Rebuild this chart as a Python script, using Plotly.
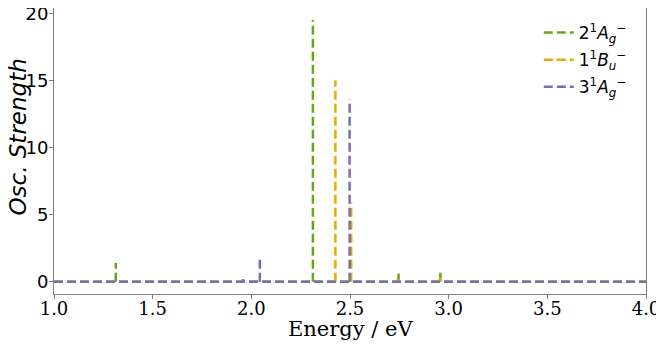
import plotly.graph_objects as go

# peak positions (eV) and oscillator strengths
ag2_pos = [1.313, 2.312, 2.746, 2.958]
ag2_h = [1.4, 19.5, 0.6, 0.7]

bu1_pos = [1.956, 2.426, 2.506, 2.742, 2.955]
bu1_h = [0.1, 15.0, 5.9, 0.2, 0.3]

ag3_pos = [1.958, 2.043, 2.498]
ag3_h = [0.2, 1.85, 13.6]

x_lo, x_hi = 1.0, 4.0


def spikes(pos, h):
    # zero baseline, then one vertical stroke per peak (separate subpaths)
    xs, ys = [x_lo, x_hi], [0.0, 0.0]
    for p, v in zip(pos, h):
        xs += [None, p, p]
        ys += [None, 0.0, v]
    return xs, ys


series = [
    ("2<sup>1</sup><i>A</i><sub><i>g</i></sub><sup>−</sup>", ag2_pos, ag2_h, "#66a61e"),
    ("1<sup>1</sup><i>B</i><sub><i>u</i></sub><sup>−</sup>", bu1_pos, bu1_h, "#e6ab02"),
    ("3<sup>1</sup><i>A</i><sub><i>g</i></sub><sup>−</sup>", ag3_pos, ag3_h, "#7570b3"),
]

fig = go.Figure()
for i, (name, pos, h, col) in enumerate(series):
    xs, ys = spikes(pos, h)
    fig.add_trace(go.Scatter(x=xs, y=ys, name=name, mode="lines", legendgroup=str(i),
                             connectgaps=False,
                             line=dict(color=col, width=2.5, dash="9px,4px")))

axis_style = dict(showline=True, linecolor="#808080", linewidth=1, mirror=True,
                  ticks="outside", ticklen=4, tickcolor="#808080",
                  showgrid=False, zeroline=False, automargin=False,
                  ticklabeloverflow="allow")

# page is drawn with an 8px body margin, so the figure is shifted by 8px
fig.update_layout(
    width=656, height=336,
    margin=dict(l=46, r=18, t=0, b=50),
    plot_bgcolor="white", paper_bgcolor="white",
    xaxis=dict(range=[x_lo, x_hi], tickvals=[1.0, 1.5, 2.0, 2.5, 3.0, 3.5, 4.0],
               ticktext=["1.0", "1.5", "2.0", "2.5", "3.0", "3.5", "4.0"],
               tickfont=dict(family="DejaVu Serif", size=18, color="black"),
               ticklabelstandoff=-6,
               **axis_style),
    yaxis=dict(range=[-0.92, 20.4], tickvals=[0, 5, 10, 15, 20],
               tickfont=dict(family="DejaVu Sans", size=18, color="black"),
               ticklabelstandoff=-3,
               **axis_style),
    legend=dict(x=0.976, y=0.9755, xanchor="right", yanchor="top",
                bgcolor="rgba(255,255,255,0)", borderwidth=0,
                font=dict(family="DejaVu Sans", size=17, color="black"),
                tracegroupgap=2),
    annotations=[
        dict(text="Energy / eV", xref="paper", yref="paper", x=0.5, y=-0.122,
             xanchor="center", yanchor="middle", showarrow=False,
             font=dict(family="DejaVu Serif", size=21, color="black")),
        dict(text="<i>Osc. Strength</i>", xref="paper", yref="paper", x=-0.061, y=0.55,
             xanchor="center", yanchor="middle", textangle=-90, showarrow=False,
             font=dict(family="DejaVu Sans", size=23, color="black")),
    ],
)

fig.write_html("out.html")
